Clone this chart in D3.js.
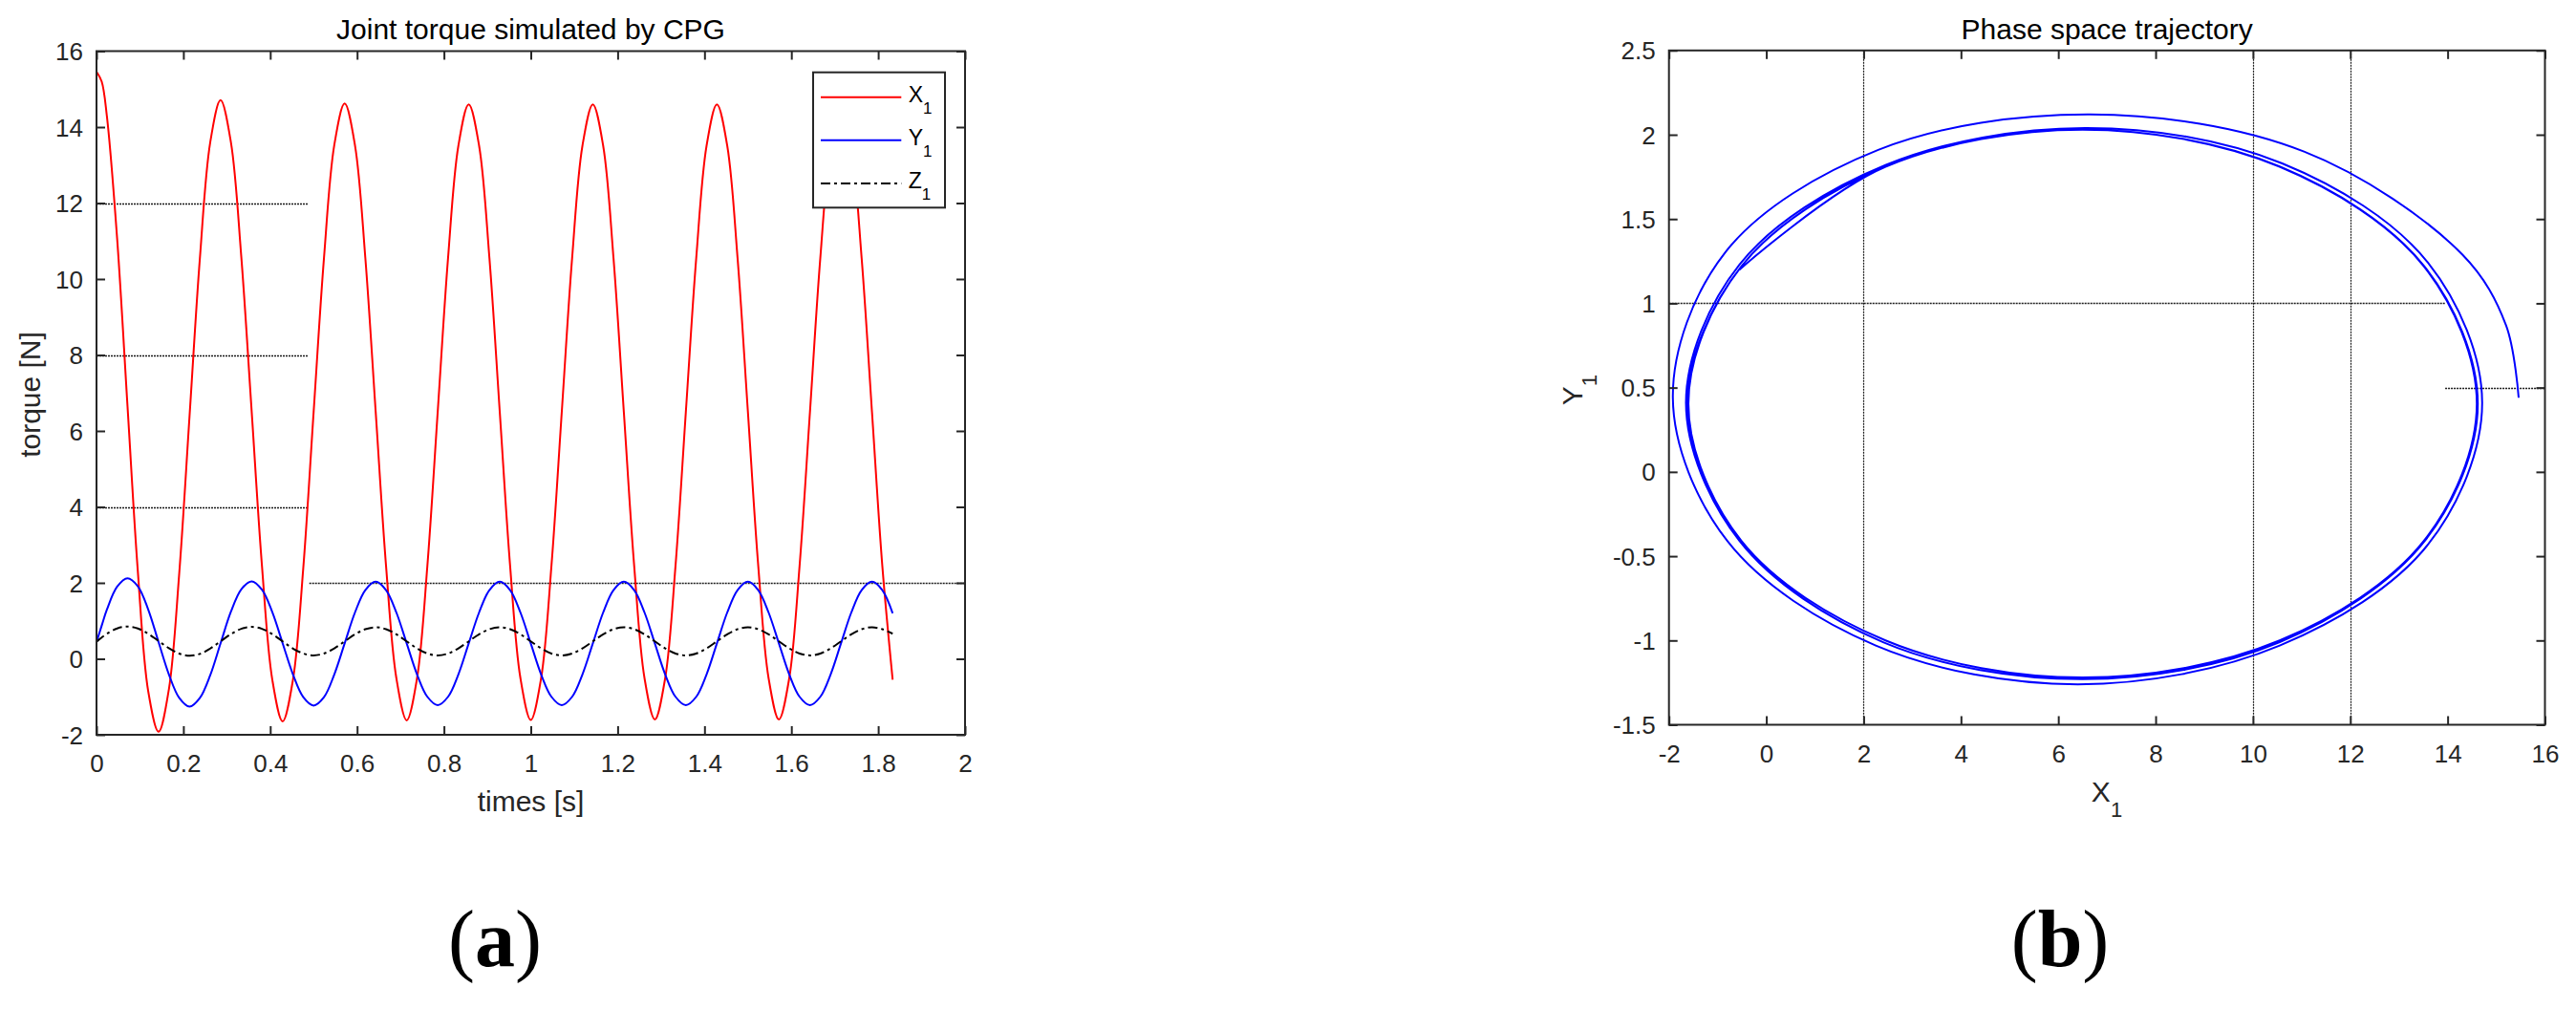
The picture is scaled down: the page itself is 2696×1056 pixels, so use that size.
<!DOCTYPE html>
<html><head><meta charset="utf-8">
<script src="https://cdn.jsdelivr.net/npm/d3@7"></script>
<style>
html,body{margin:0;padding:0;background:#fff;}
svg{display:block;}
</style>
</head><body>
<svg id="chart" width="2696" height="1056"></svg>
<script>
// ---------------- data ----------------
const timeS = [0,0.0119,0.0238,0.0476,0.0714,0.0952,0.1190,0.1429,0.1667,0.1905,0.2143,0.2381,0.2619,
  0.2857,0.3095,0.3333,0.3571,0.3810,0.4048,0.4286,0.4524,0.4762,0.5000,0.5238,0.5476,
  0.5714,0.5952,0.6190,0.6429,0.6667,0.6905,0.7143,0.7381,0.7619,0.7857,0.8095,0.8333,
  0.8571,0.8810,0.9048,0.9286,0.9524,0.9762,1.0000,1.0238,1.0476,1.0714,1.0952,1.1190,
  1.1429,1.1667,1.1905,1.2143,1.2381,1.2619,1.2857,1.3095,1.3333,1.3571,1.3810,1.4048,
  1.4286,1.4524,1.4762,1.5000,1.5238,1.5476,1.5714,1.5952,1.6190,1.6429,1.6667,1.6905,
  1.7143,1.7381,1.7619,1.7857,1.8095,1.8333];
const x1Torque = [15.46,15.2,14.3,11.05,6.65,2.3,-0.85,-1.92,-0.8,2.25,6.4,10.55,13.6,
  14.71,13.6,10.6,6.55,2.45,-0.55,-1.65,-0.55,2.4,6.5,10.55,13.53,
  14.62,13.52,10.56,6.5,2.45,-0.51,-1.62,-0.51,2.45,6.5,10.55,13.51,
  14.6,13.51,10.55,6.5,2.45,-0.51,-1.61,-0.51,2.45,6.5,10.55,13.51,
  14.6,13.51,10.55,6.5,2.45,-0.51,-1.6,-0.51,2.45,6.5,10.55,13.51,
  14.6,13.51,10.55,6.5,2.45,-0.51,-1.6,-0.51,2.45,6.5,10.55,13.51,
  14.6,13.51,10.55,6.5,2.45,-0.55];
const y1Torque = [0.44,0.87,1.29,1.90,2.12,1.91,1.30,0.44,-0.41,-1.03,-1.26,-1.03,-0.43,
  0.41,1.24,1.83,2.04,1.82,1.23,0.41,-0.41,-1.01,-1.23,-1.01,-0.41,
  0.405,1.22,1.81,2.03,1.81,1.22,0.405,-0.41,-1.0,-1.22,-1.0,-0.41,
  0.405,1.22,1.81,2.03,1.81,1.22,0.405,-0.41,-1.0,-1.22,-1.0,-0.41,
  0.405,1.22,1.81,2.03,1.81,1.22,0.405,-0.41,-1.0,-1.22,-1.0,-0.41,
  0.405,1.22,1.81,2.03,1.81,1.22,0.405,-0.41,-1.0,-1.22,-1.0,-0.41,
  0.405,1.22,1.81,2.03,1.81,1.20];
const z1Torque = [0.45,0.56,0.66,0.80,0.85,0.80,0.66,0.47,0.28,0.14,0.08,0.13,0.27,
  0.46,0.65,0.79,0.84,0.79,0.65,0.46,0.27,0.14,0.09,0.14,0.275,
  0.46,0.645,0.78,0.83,0.78,0.645,0.46,0.275,0.14,0.09,0.14,0.275,
  0.46,0.645,0.78,0.83,0.78,0.645,0.46,0.275,0.14,0.09,0.14,0.275,
  0.46,0.645,0.78,0.83,0.78,0.645,0.46,0.275,0.14,0.09,0.14,0.275,
  0.46,0.645,0.78,0.83,0.78,0.645,0.46,0.275,0.14,0.09,0.14,0.275,
  0.46,0.645,0.78,0.83,0.78,0.66];

const timeTicks = [0,0.2,0.4,0.6,0.8,1,1.2,1.4,1.6,1.8,2];
const torqueTicks = [-2,0,2,4,6,8,10,12,14,16];
const phaseXTicks = [-2,0,2,4,6,8,10,12,14,16];
const phaseYTicks = [-1.5,-1,-0.5,0,0.5,1,1.5,2,2.5];
const seriesNames = ["X","Y","Z"];
const seriesSub = ["1","1","1"];
const leftGuideLines = [{v:12,from:0,to:0.487},{v:8,from:0,to:0.487},{v:4,from:0,to:0.485},{v:2,from:0.49,to:2}];
const phaseGuideV = [2,10,12];
const phaseGuideH = [{v:1,from:-2,to:13.95},{v:0.5,from:13.95,to:16}];
const titles = ["Joint torque simulated by CPG","Phase space trajectory"];
const xLabels = ["times [s]","X"];
const yLabels = ["torque [N]","Y"];
const panelLabels = ["a","b"];

// ---------------- drawing ----------------
const SANS = "'Liberation Sans', Arial, Helvetica, sans-serif";
const SERIF = "'Liberation Serif', 'Times New Roman', serif";
const svg = d3.select("#chart").style("font-family", SANS);
svg.append("rect").attr("width",2696).attr("height",1056).attr("fill","#fff");
const AX = "#262626";
const TICK_FONT = 26;

const xL = d3.scaleLinear().domain([0,2]).range([101,1010]);
const yL = d3.scaleLinear().domain([-2,16]).range([769,53.5]);
const xR = d3.scaleLinear().domain([-2,16]).range([1746.7,2663.5]);
const yR = d3.scaleLinear().domain([-1.5,2.5]).range([758.5,52.8]);

function drawAxes(x, y, xt, yt){
  const [xa,xb] = x.range(); const [yb,ya] = y.range();
  const g = svg.append("g");
  const style = s => s.attr("font-size",TICK_FONT).attr("font-family",SANS).attr("color",AX)
      .call(a=>a.select(".domain").remove()).call(a=>a.selectAll(".tick line").attr("stroke-width",2));
  g.append("g").attr("transform",`translate(0,${yb})`)
    .call(d3.axisBottom(x).tickValues(xt).tickFormat(d=>String(d)).tickSizeInner(-9).tickSizeOuter(0).tickPadding(21)).call(style);
  g.append("g").attr("transform",`translate(0,${ya})`)
    .call(d3.axisTop(x).tickValues(xt).tickFormat("").tickSizeInner(-9).tickSizeOuter(0)).call(style);
  g.append("g").attr("transform",`translate(${xa},0)`)
    .call(d3.axisLeft(y).tickValues(yt).tickFormat(d=>String(d)).tickSizeInner(-9).tickSizeOuter(0).tickPadding(14)).call(style)
    .selectAll(".tick text").attr("dy","0.35em");
  g.append("g").attr("transform",`translate(${xb},0)`)
    .call(d3.axisRight(y).tickValues(yt).tickFormat("").tickSizeInner(-9).tickSizeOuter(0)).call(style);
  g.append("rect").attr("x",xa).attr("y",ya).attr("width",xb-xa).attr("height",yb-ya)
    .attr("fill","none").attr("stroke",AX).attr("stroke-width",2);
  return g;
}
function clip(id, x, y){
  const [xa,xb] = x.range(); const [yb,ya] = y.range();
  svg.append("clipPath").attr("id",id).append("rect").attr("x",xa).attr("y",ya).attr("width",xb-xa).attr("height",yb-ya);
}
const GUIDE = {c:"#1a1a1a", w:1.6, dash:"2,1"};

// ---- left panel ----
clip("clipL", xL, yL);
const gL = svg.append("g").attr("clip-path","url(#clipL)");
gL.selectAll("line.guide").data(leftGuideLines).join("line")
  .attr("x1",d=>xL(d.from)).attr("x2",d=>xL(d.to)).attr("y1",d=>Math.round(yL(d.v))+0.5).attr("y2",d=>Math.round(yL(d.v))+0.5)
  .attr("stroke",GUIDE.c).attr("stroke-width",GUIDE.w).attr("stroke-dasharray",GUIDE.dash);
const lineL = (vals) => d3.line().x((d,i)=>xL(timeS[i])).y(d=>yL(d)).curve(d3.curveCatmullRom.alpha(0.5))(vals);
gL.append("path").attr("d",lineL(x1Torque)).attr("fill","none").attr("stroke","#ff0000").attr("stroke-width",2);
gL.append("path").attr("d",lineL(y1Torque)).attr("fill","none").attr("stroke","#0000ff").attr("stroke-width",2);
gL.append("path").attr("d",lineL(z1Torque)).attr("fill","none").attr("stroke","#000").attr("stroke-width",2).attr("stroke-dasharray","10,4,3,4");
drawAxes(xL, yL, timeTicks, torqueTicks);

// ---- right panel ----
clip("clipR", xR, yR);
const gR = svg.append("g").attr("clip-path","url(#clipR)");
gR.selectAll("line.gv").data(phaseGuideV).join("line")
  .attr("x1",d=>Math.round(xR(d))+0.5).attr("x2",d=>Math.round(xR(d))+0.5).attr("y1",yR(2.5)).attr("y2",yR(-1.5))
  .attr("stroke",GUIDE.c).attr("stroke-width",1.2).attr("stroke-dasharray",GUIDE.dash);
gR.selectAll("line.gh").data(phaseGuideH).join("line")
  .attr("x1",d=>xR(d.from)).attr("x2",d=>xR(d.to)).attr("y1",d=>Math.round(yR(d.v))+0.5).attr("y2",d=>Math.round(yR(d.v))+0.5)
  .attr("stroke",GUIDE.c).attr("stroke-width",GUIDE.w).attr("stroke-dasharray",GUIDE.dash);
const phasePts = x1Torque.map((v,i)=>[v, y1Torque[i]]);
gR.append("path").attr("d", d3.line().x(d=>xR(d[0])).y(d=>yR(d[1])).curve(d3.curveCatmullRom.alpha(0.5))(phasePts))
  .attr("fill","none").attr("stroke","#0000ff").attr("stroke-width",2);
drawAxes(xR, yR, phaseXTicks, phaseYTicks);

// ---- titles & labels ----
svg.append("text").attr("x",(101+1010)/2).attr("y",41).attr("text-anchor","middle").attr("font-size",30).attr("fill","#000").text(titles[0]);
svg.append("text").attr("x",(1746.7+2663.5)/2).attr("y",40.5).attr("text-anchor","middle").attr("font-size",30).attr("fill","#000").text(titles[1]);
svg.append("text").attr("x",555.5).attr("y",849).attr("text-anchor","middle").attr("font-size",30).attr("fill",AX).text(xLabels[0]);
svg.append("text").attr("transform","translate(41.7,413) rotate(-90)").attr("text-anchor","middle").attr("font-size",30).attr("fill",AX).text(yLabels[0]);
const xl2 = svg.append("text").attr("x",2205).attr("y",839).attr("text-anchor","middle").attr("font-size",30).attr("fill",AX);
xl2.append("tspan").text(xLabels[1]);
xl2.append("tspan").attr("font-size",22).attr("dy",16).text("1");
const yl2 = svg.append("text").attr("transform","translate(1656,408) rotate(-90)").attr("text-anchor","middle").attr("font-size",30).attr("fill",AX);
yl2.append("tspan").text(yLabels[1]);
yl2.append("tspan").attr("font-size",22).attr("dy",15).text("1");

// ---- legend ----
const lg = svg.append("g");
lg.append("rect").attr("x",851).attr("y",75.7).attr("width",138).attr("height",141.6).attr("fill","#fff").attr("stroke",AX).attr("stroke-width",2);
const legStyles = [{c:"#ff0000",dash:null},{c:"#0000ff",dash:null},{c:"#000",dash:"10,4,3,4"}];
const legRow = d3.scaleLinear().domain([0,2]).range([101.7,192]);
seriesNames.forEach((nm,i)=>{
  const yy = legRow(i);
  lg.append("line").attr("x1",859).attr("x2",943.3).attr("y1",yy).attr("y2",yy)
    .attr("stroke",legStyles[i].c).attr("stroke-width",2).attr("stroke-dasharray",legStyles[i].dash);
  const t = lg.append("text").attr("x",950.7).attr("y",yy+5).attr("font-size",23).attr("fill","#000");
  t.append("tspan").text(nm);
  t.append("tspan").attr("font-size",17).attr("dy",12).text(seriesSub[i]);
});

// ---- panel labels ----
[[518,panelLabels[0]],[2156,panelLabels[1]]].forEach(([cx,lab])=>{
  const t = svg.append("text").attr("x",cx).attr("y",1011).attr("text-anchor","middle")
    .style("font-family",SERIF).attr("font-size",84).attr("fill","#000");
  t.append("tspan").text("(");
  t.append("tspan").attr("font-weight","bold").text(lab);
  t.append("tspan").text(")");
});
</script>
</body></html>
